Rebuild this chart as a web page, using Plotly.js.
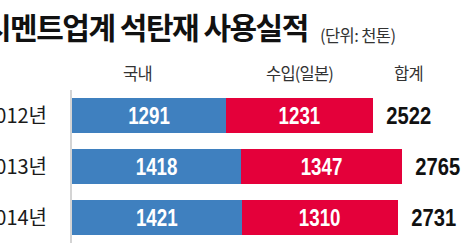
<!DOCTYPE html>
<html><head><meta charset="utf-8">
<script src="https://cdn.plot.ly/plotly-3.0.1.min.js"></script>
<style>html,body{margin:0;padding:0;background:#fff;}</style>
</head><body>
<div id="chart" style="width:474px;height:248px;"></div>
<script>
var years = ['2012년', '2013년', '2014년'];
var domestic = [1291, 1418, 1421];
var imported = [1231, 1347, 1310];
var totals = [2522, 2765, 2731];
var seriesNames = ['국내', '수입(일본)', '합계'];
var titleText = '시멘트업계 석탄재 사용실적';
var unitText = '(단위: 천톤)';

var numFont = 'Liberation Sans, Arial, sans-serif';
var krFont = 'Noto Sans CJK KR, sans-serif';
function tight(s, ls){ return '<span style="letter-spacing:'+ls+'px">'+s+'</span>'; }

var traces = [
  {type:'bar', orientation:'h', y:years, x:domestic, name:seriesNames[0],
   marker:{color:'#3f80bf'}, text:domestic.map(String), textposition:'inside',
   insidetextanchor:'middle', textfont:{family:numFont, size:24, color:'#fff', weight:'bold'},
   hoverinfo:'none'},
  {type:'bar', orientation:'h', y:years, x:imported, name:seriesNames[1],
   marker:{color:'#e4003a'}, text:imported.map(String), textposition:'inside',
   insidetextanchor:'middle', textfont:{family:numFont, size:24, color:'#fff', weight:'bold'},
   hoverinfo:'none'}
];

var ann = totals.map(function(t,i){
  return {x:t, y:years[i], xref:'x', yref:'y', text:String(t), showarrow:false,
    xanchor:'left', xshift:7, font:{family:numFont, size:24, color:'#111', weight:'bold'},
    name:'total'};
});
ann.push({xref:'paper', yref:'paper', x:(310-72)/402, y:1.418, xanchor:'right', yanchor:'middle',
  text:tight(titleText,-1.5), showarrow:false,
  font:{family:krFont, size:30, color:'#111', weight:'bold'}});
ann.push({xref:'paper', yref:'paper', x:(318-72)/402, y:1.362, xanchor:'left', yanchor:'middle',
  text:tight(unitText,-0.6), showarrow:false,
  font:{family:krFont, size:16.5, color:'#333'}});
var headerPx = [137, 299, 408];
seriesNames.forEach(function(n,i){
  ann.push({xref:'paper', yref:'paper', x:(headerPx[i]-72)/402, y:1.111, xanchor:'center', yanchor:'middle',
    text:tight(n,-0.8), showarrow:false,
    font:{family:krFont, size:16.5, color:'#333'}});
});

var layout = {
  width:474, height:248,
  margin:{l:72, r:0, t:90, b:5, pad:0},
  paper_bgcolor:'#fff', plot_bgcolor:'#fff',
  barmode:'stack', bargap:0.32, showlegend:false,
  xaxis:{range:[0, 3370], visible:false, fixedrange:true},
  yaxis:{type:'category', autorange:'reversed', showgrid:false, zeroline:false,
    showline:true, linecolor:'#d4d4d4', linewidth:2, ticks:'', ticklabelstandoff:19,
    tickfont:{family:krFont, size:20, color:'#1a1a1a'}},
  annotations:ann,
  uniformtext:{mode:false}
};
function condense(el, f){
  var w = el.getComputedTextLength();
  if (!w) return;
  el.setAttribute('lengthAdjust', 'spacingAndGlyphs');
  el.setAttribute('textLength', (w*f).toFixed(2));
}
Plotly.newPlot('chart', traces, layout, {displayModeBar:false, staticPlot:true}).then(function(gd){
  gd.querySelectorAll('.bartext').forEach(function(t){ condense(t, 0.78); });
  var anns = gd.querySelectorAll('.annotation-text');
  for (var i = 0; i < totals.length; i++) condense(anns[i], 0.84);
});
</script>
</body></html>
